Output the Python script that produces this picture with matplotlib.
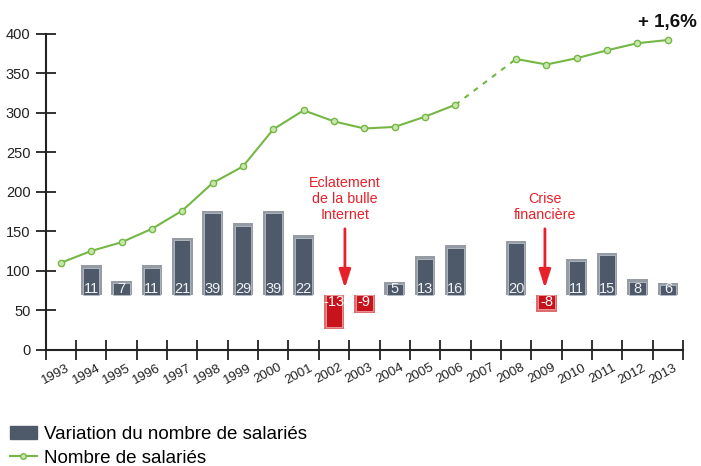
import numpy as np
import matplotlib.pyplot as plt
import matplotlib.transforms as mtransforms
from matplotlib.patches import Patch
from matplotlib.lines import Line2D

plt.rcParams['font.family'] = ['Liberation Sans', 'DejaVu Sans']

# Données
annees = [str(a) for a in range(1993, 2014)]
salaries = [110, 125, 136, 153, 176, 211, 232, 279, 303, 289, 280, 282,
            295, 310, None, 368, 361, 369, 379, 388, 392]
# variation affichée dans les barres
variation = [None, 11, 7, 11, 21, 39, 29, 39, 22, -13, -9, 5, 13, 16,
             None, 20, -8, 11, 15, 8, 6]
# hauteur dessinée des barres (échelle du graphique, depuis la base 69)
hauteur_barre = [None, 38, 18, 38, 73, 107, 91, 107, 76, -43, -23, 17, 49,
                 63, None, 69, -21, 46, 54, 20, 16]
base = 69

gris_fond = '#4e5969'
gris_bord = '#959ca5'
rouge_fond = '#c7141c'
rouge_bord = '#dc6e6e'
vert = '#74b744'
rouge_txt = '#e8202a'

fig = plt.figure(figsize=(7.01, 4.66), dpi=100)
ax = fig.add_axes([45.7 / 701, 116.3 / 466, (683 - 45.7) / 701, 316 / 466])

# Barres (effet biseauté : bord clair + intérieur foncé)
for i, h in enumerate(hauteur_barre):
    if h is None:
        continue
    if h > 0:
        fond, bord = gris_fond, gris_bord
    else:
        fond, bord = rouge_fond, rouge_bord
    ax.bar(i, h, bottom=base, width=0.68, color=bord, zorder=2)
    inset = 3.0 if h > 0 else -3.0
    ax.bar(i, h - inset, bottom=base, width=0.54, color=fond,
           edgecolor='#b8bec5' if h > 0 else '#f0a0a0', linewidth=0.6, zorder=3)
    v = variation[i]
    if h > 0:
        ax.text(i, base - 0.5, str(v), ha='center', va='bottom', color='#eef0f3',
                fontsize=10.5, zorder=4)
    else:
        ax.text(i, base + 0.5, str(v), ha='center', va='top', color='#ffffff',
                fontsize=10.5, zorder=4)

# Courbe du nombre de salariés
idx_avant = [i for i in range(14)]
idx_apres = [i for i in range(15, 21)]
ax.plot(idx_avant, [salaries[i] for i in idx_avant], color=vert, lw=1.5,
        marker='o', ms=4.5, mfc='#c9e6ad', mec=vert, mew=1, zorder=5)
ax.plot(idx_apres, [salaries[i] for i in idx_apres], color=vert, lw=1.5,
        marker='o', ms=4.5, mfc='#c9e6ad', mec=vert, mew=1, zorder=5)
ax.plot([13, 15], [salaries[13], salaries[15]], color=vert, lw=1.5,
        linestyle=(0, (2.5, 3)), zorder=4)

ax.text(20, 408, '+ 1,6%', ha='center', va='baseline', fontsize=13.5,
        fontweight='bold', color='#111111', clip_on=False)

# Annotations
ax.text(9.36, 162, 'Eclatement\nde la bulle\nInternet', ha='center', va='bottom',
        color=rouge_txt, fontsize=10.3, linespacing=1.15)
ax.annotate('', xy=(9.36, 78), xytext=(9.36, 153),
            arrowprops=dict(arrowstyle='-|>,head_width=0.35,head_length=1.1',
                            color=rouge_txt, lw=2, shrinkA=0, shrinkB=0))
ax.text(15.95, 162, 'Crise\nfinancière', ha='center', va='bottom',
        color=rouge_txt, fontsize=10.3, linespacing=1.15)
ax.annotate('', xy=(15.95, 78), xytext=(15.95, 153),
            arrowprops=dict(arrowstyle='-|>,head_width=0.35,head_length=1.1',
                            color=rouge_txt, lw=2, shrinkA=0, shrinkB=0))

# Axes
ax.set_xlim(-0.5, 20.5)
ax.set_ylim(0, 400)
for s in ['top', 'right']:
    ax.spines[s].set_visible(False)
for s in ['left', 'bottom']:
    ax.spines[s].set_color('#222222')
    ax.spines[s].set_linewidth(1.5)
ax.set_yticks(np.arange(0, 401, 50))
ax.set_xticks(np.arange(-0.5, 20.6, 1))
ax.set_xticklabels([])
ax.tick_params(axis='both', direction='inout', length=14, width=1.3,
               color='#222222', labelsize=10.5, labelcolor='#222222')
ax.tick_params(axis='y', pad=4)

decal = mtransforms.ScaledTranslation(-5 / 100, -12 / 100, fig.dpi_scale_trans)
trans = mtransforms.blended_transform_factory(ax.transData, ax.transAxes) + decal
for i, a in enumerate(annees):
    ax.text(i, 0, a, transform=trans, rotation=28, ha='center', va='top',
            fontsize=9.5, color='#222222')

# Légende
poignees = [Patch(color=gris_fond),
            Line2D([0], [0], color=vert, lw=1.5, marker='o', ms=4,
                   mfc='#c9e6ad', mec=vert)]
fig.legend(poignees, ['Variation du nombre de salariés', 'Nombre de salariés'],
           loc='lower left', bbox_to_anchor=(-0.005, -0.03), frameon=False,
           fontsize=13.5, handlelength=1.45, handleheight=0.65,
           handletextpad=0.4, labelspacing=0.36, borderaxespad=0.3)

fig.savefig('out.png', dpi=100)
